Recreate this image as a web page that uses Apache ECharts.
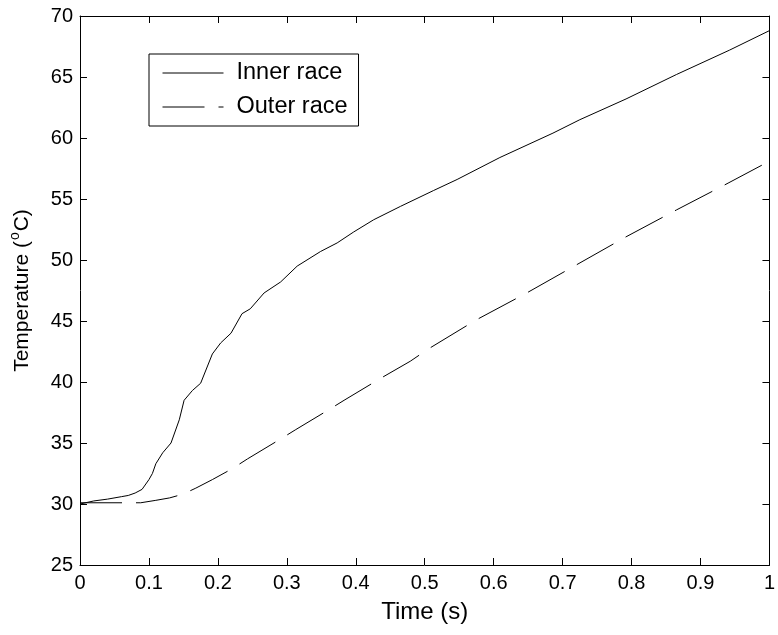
<!DOCTYPE html>
<html>
<head>
<meta charset="utf-8">
<script src="https://cdn.jsdelivr.net/npm/echarts@6/dist/echarts.min.js"></script>
<style>
  html, body { margin: 0; padding: 0; background: #fff; }
  #chart { width: 778px; height: 635px; }
</style>
</head>
<body>
<div id="chart"></div>
<script>
// inner race temperature
const innerTime = [0, 0.02, 0.04, 0.06, 0.07, 0.08, 0.09, 0.1, 0.105, 0.11, 0.12, 0.132, 0.144, 0.151, 0.163, 0.175, 0.192, 0.204, 0.219, 0.235, 0.247, 0.267, 0.291, 0.315, 0.349, 0.373, 0.397, 0.426, 0.465, 0.513, 0.547, 0.609, 0.686, 0.725, 0.792, 0.865, 0.942, 1.0];
const innerTemp = [30.0, 30.25, 30.4, 30.6, 30.7, 30.9, 31.2, 32.0, 32.5, 33.3, 34.2, 35.0, 36.9, 38.5, 39.3, 39.9, 42.3, 43.2, 44.0, 45.6, 46.0, 47.3, 48.2, 49.5, 50.7, 51.4, 52.3, 53.3, 54.4, 55.7, 56.6, 58.4, 60.4, 61.5, 63.2, 65.2, 67.2, 68.8];
// outer race temperature
const outerTime = [0, 0.064, 0.088, 0.11, 0.13, 0.149, 0.168, 0.192, 0.221, 0.243, 0.293, 0.313, 0.363, 0.383, 0.436, 0.479, 0.505, 0.575, 0.648, 0.72, 0.792, 0.865, 0.94, 1.0];
const outerTemp = [30.1, 30.1, 30.1, 30.3, 30.5, 30.8, 31.3, 32.0, 32.9, 33.7, 35.4, 36.1, 37.8, 38.5, 40.3, 41.7, 42.7, 45.1, 47.3, 49.6, 51.9, 54.1, 56.3, 58.1];
const seriesNames = ['Inner race', 'Outer race'];

const font = "'Liberation Sans', Arial, sans-serif";
const pairs = (xs, ys) => xs.map((x, i) => [x, ys[i]]);

const myChart = echarts.init(document.getElementById('chart'));

const tickStyle = { inside: true, length: 7, lineStyle: { color: '#000', width: 1 } };
const lineAxis = { onZero: false, lineStyle: { color: '#000', width: 1 } };

const option = {
  animation: false,
  backgroundColor: '#fff',
  grid: { left: 79, right: 8, top: 16, bottom: 70 },
  legend: {
    data: seriesNames,
    orient: 'vertical',
    left: 149,
    top: 54,
    padding: [7, 11, 7, 13],
    itemWidth: 61,
    itemHeight: 14,
    itemGap: 10,
    backgroundColor: '#fff',
    borderColor: '#000',
    borderWidth: 1,
    borderRadius: 0,
    itemStyle: { opacity: 0 },
    lineStyle: { width: 1 },
    textStyle: { fontFamily: font, fontSize: 23.5, color: '#000', lineHeight: 24, padding: [0, 0, 0, 8] }
  },
  xAxis: [{
    type: 'value',
    min: 0, max: 1, interval: 0.1,
    name: 'Time (s)',
    nameLocation: 'middle',
    nameGap: 35,
    nameTextStyle: { fontFamily: font, fontSize: 24, color: '#000' },
    axisLine: lineAxis,
    axisTick: tickStyle,
    axisLabel: { fontFamily: font, fontSize: 20, color: '#000', margin: 8 },
    splitLine: { show: false }
  }, {
    type: 'value',
    position: 'top',
    min: 0, max: 1, interval: 0.1,
    axisLine: lineAxis,
    axisTick: tickStyle,
    axisLabel: { show: false },
    splitLine: { show: false }
  }],
  yAxis: [{
    type: 'value',
    min: 25, max: 70, interval: 5,
    name: '{a|Temperature (}{s|o}{a|C)}',
    nameLocation: 'middle',
    nameGap: 44,
    nameTextStyle: {
      rich: {
        a: { fontFamily: font, fontSize: 21, color: '#000' },
        s: { fontFamily: font, fontSize: 14, color: '#000', padding: [0, 1, 14, 1] }
      }
    },
    axisLine: lineAxis,
    axisTick: tickStyle,
    axisLabel: { fontFamily: font, fontSize: 20, color: '#000', margin: 7 },
    splitLine: { show: false }
  }, {
    type: 'value',
    position: 'right',
    min: 25, max: 70, interval: 5,
    axisLine: lineAxis,
    axisTick: tickStyle,
    axisLabel: { show: false },
    splitLine: { show: false }
  }],
  series: [{
    name: seriesNames[0],
    type: 'line',
    data: pairs(innerTime, innerTemp),
    showSymbol: false,
    symbol: 'none',
    color: '#000',
    lineStyle: { color: '#000', width: 1 }
  }, {
    name: seriesNames[1],
    type: 'line',
    data: pairs(outerTime, outerTemp),
    showSymbol: false,
    symbol: 'none',
    color: '#000',
    lineStyle: { color: '#000', width: 1, type: [42, 14] }
  }]
};
myChart.setOption(option);
</script>
</body>
</html>
